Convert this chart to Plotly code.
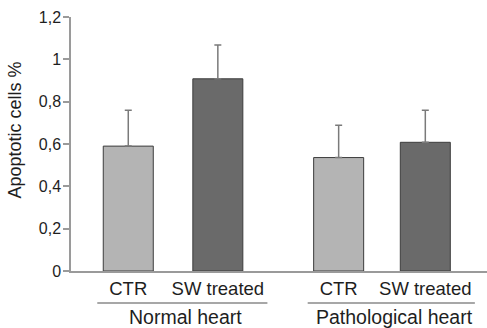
import plotly.graph_objects as go

# ---- data ----
categories = ["CTR", "SW treated", "CTR", "SW treated"]
groups = ["Normal heart", "Pathological heart"]
values = [0.59, 0.908, 0.536, 0.608]
errors = [0.17, 0.16, 0.153, 0.152]
y_ticks = [0, 0.2, 0.4, 0.6, 0.8, 1.0, 1.2]
y_tick_labels = ["0", "0,2", "0,4", "0,6", "0,8", "1", "1,2"]
y_title = "Apoptotic cells %"

# ---- layout helpers ----
x_pos = [0.647, 1.659, 3.024, 4.003]
bar_colors = ["#b4b4b4", "#6a6a6a", "#b4b4b4", "#6a6a6a"]
font_family = "Liberation Sans, Arial, sans-serif"
text_color = "#1e1e1e"

fig = go.Figure()
fig.add_trace(go.Bar(
    x=x_pos, y=values, width=0.565,
    marker=dict(color=bar_colors, line=dict(color="#3c3c3c", width=1)),
    error_y=dict(type="data", array=errors, arrayminus=[0]*len(errors),
                 symmetric=False, color="#7a7a7a", thickness=1.5, width=3.5),
    showlegend=False, hoverinfo="skip",
))

shapes = []
annotations = []
for gi, g in enumerate(groups):
    x0 = x_pos[2*gi] - 0.35
    x1 = x_pos[2*gi+1] + 0.56
    shapes.append(dict(type="line", xref="x", yref="paper", x0=x0, x1=x1,
                       y0=-0.126, y1=-0.126, line=dict(color="#8a8a8a", width=1.5)))
    annotations.append(dict(text=g, xref="x", yref="paper", x=(x0+x1)/2 + 0.04,
                            y=-0.182, showarrow=False, xanchor="center", yanchor="middle",
                            font=dict(size=19.5, color=text_color, family=font_family)))

annotations.append(dict(text=y_title, xref="paper", yref="paper", x=-0.134, y=0.554,
                        textangle=-90, showarrow=False, xanchor="center", yanchor="middle",
                        font=dict(size=18, color=text_color, family=font_family)))

fig.update_layout(
    width=487, height=328,
    margin=dict(l=71, r=0, t=17, b=57),
    plot_bgcolor="white", paper_bgcolor="white",
    font=dict(family=font_family, color=text_color),
    shapes=shapes, annotations=annotations,
    xaxis=dict(range=[0, 4.7], showline=True, linecolor="#9a9a9a", linewidth=1.5,
               tickvals=x_pos, ticktext=categories, ticks="", showgrid=False,
               zeroline=False, tickfont=dict(size=18.5, color=text_color)),
    yaxis=dict(range=[0, 1.2], showline=True, linecolor="#9a9a9a", linewidth=1.5,
               tickvals=y_ticks, ticktext=y_tick_labels, ticks="outside", ticklen=6,
               tickcolor="#9a9a9a", tickwidth=1.5, showgrid=False, zeroline=False,
               ticklabelstandoff=-1,
               tickfont=dict(size=16, color=text_color)),
)

fig.write_html("out.html", config={"displayModeBar": False},
               post_script="document.body.style.margin='0';")
